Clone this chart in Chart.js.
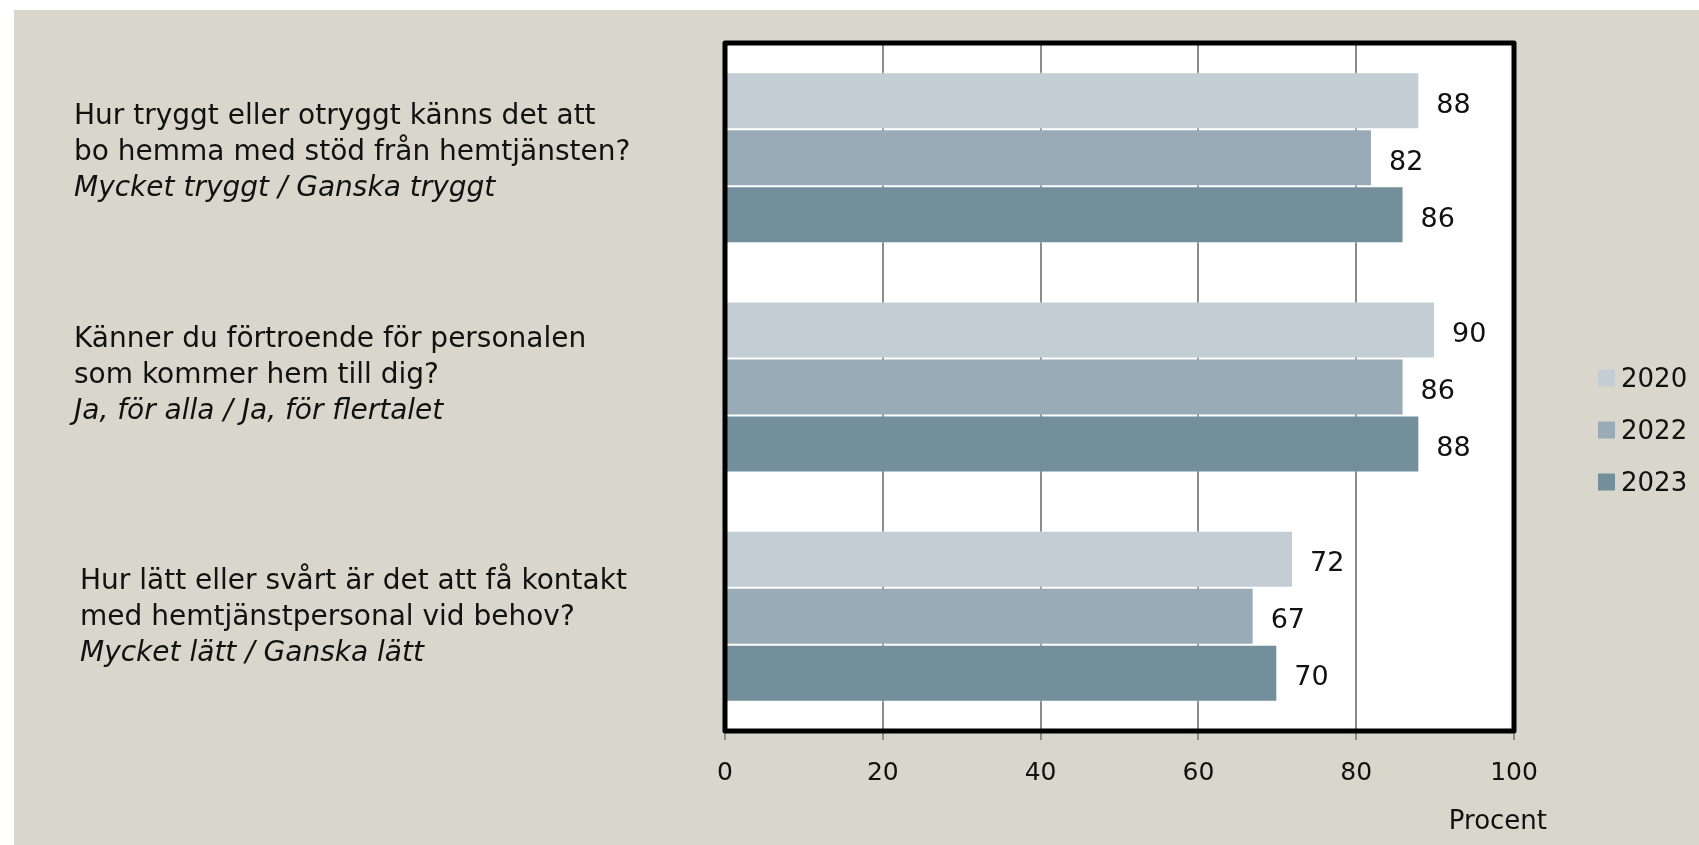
<!DOCTYPE html>
<html>
<head>
<meta charset="utf-8">
<script src="https://cdn.jsdelivr.net/npm/chart.js@4.4.1/dist/chart.umd.min.js"></script>
<style>
html,body{margin:0;padding:0;background:#ffffff;}
#wrap{width:1699px;height:845px;position:relative;}
</style>
</head>
<body>
<div id="wrap"><canvas id="c" width="1699" height="845"></canvas></div>
<script>
const categories = ["Q1", "Q2", "Q3"];
const questionLines = [
  ["Hur tryggt eller otryggt känns det att", "bo hemma med stöd från hemtjänsten?"],
  ["Känner du förtroende för personalen", "som kommer hem till dig?"],
  ["Hur lätt eller svårt är det att få kontakt", "med hemtjänstpersonal vid behov?"]
];
const answerLines = [
  "Mycket tryggt / Ganska tryggt",
  "Ja, för alla / Ja, för flertalet",
  "Mycket lätt / Ganska lätt"
];
const seriesNames = ["2020", "2022", "2023"];
const values2020 = [88, 90, 72];
const values2022 = [82, 86, 67];
const values2023 = [86, 88, 70];
const xTicks = [0, 20, 40, 60, 80, 100];
const axisTitle = "Procent";

const FONT = "'DejaVu Sans', sans-serif";
const colors = ["#c3cdd4", "#98abb6", "#738f9c"];
const seriesValues = [values2020, values2022, values2023];

const decor = {
  id: 'decor',
  beforeDraw(chart) {
    const ctx = chart.ctx, a = chart.chartArea;
    ctx.save();
    ctx.fillStyle = '#d9d7cb';
    ctx.fillRect(14, 10, chart.width - 14, chart.height - 10);
    ctx.fillStyle = '#ffffff';
    ctx.fillRect(a.left, a.top, a.right - a.left, a.bottom - a.top);
    ctx.restore();
  },
  afterDatasetsDraw(chart) {
    const ctx = chart.ctx, a = chart.chartArea;
    ctx.save();
    // value labels
    ctx.fillStyle = '#111';
    ctx.font = "27px " + FONT;
    ctx.textAlign = 'left';
    ctx.textBaseline = 'middle';
    chart.data.datasets.forEach((ds, i) => {
      chart.getDatasetMeta(i).data.forEach((bar, j) => {
        ctx.fillText(String(ds.data[j]), bar.x + 17, bar.y + 5);
      });
    });
    // frame
    ctx.strokeStyle = '#000';
    ctx.lineWidth = 5;
    ctx.lineJoin = 'round';
    ctx.strokeRect(a.left, a.top, a.right - a.left, a.bottom - a.top);
    // category labels
    const yScale = chart.scales.y;
    const shift = [-5, -11.5, 1.5];
    const indent = [74, 74, 80];
    ctx.fillStyle = '#111';
    ctx.textBaseline = 'middle';
    categories.forEach((c, i) => {
      const cy = yScale.getPixelForValue(i) + shift[i];
      const lines = questionLines[i];
      const lh = 36;
      const x = indent[i];
      ctx.font = "28px " + FONT;
      ctx.fillText(lines[0], x, cy - lh);
      ctx.fillText(lines[1], x, cy);
      ctx.font = "oblique 28px " + FONT;
      ctx.fillText(answerLines[i], x, cy + lh);
    });
    // axis title
    ctx.font = "26px " + FONT;
    ctx.textAlign = 'right';
    ctx.fillStyle = '#111';
    ctx.fillText(axisTitle, 1547, 822);
    // legend
    ctx.textAlign = 'left';
    seriesNames.forEach((n, i) => {
      const cy = 378 + i * 52;
      ctx.fillStyle = colors[i];
      ctx.fillRect(1598, cy - 8.5, 17, 17);
      ctx.fillStyle = '#111';
      ctx.font = "26px " + FONT;
      ctx.fillText(n, 1621, cy + 2);
    });
    ctx.restore();
  }
};

new Chart(document.getElementById('c'), {
  type: 'bar',
  data: {
    labels: categories,
    datasets: seriesNames.map((n, i) => ({
      label: n,
      data: seriesValues[i],
      backgroundColor: colors[i],
      borderColor: 'rgba(255,255,255,0.35)',
      borderWidth: 1,
      barPercentage: 1.0,
      categoryPercentage: 0.746
    }))
  },
  options: {
    indexAxis: 'y',
    responsive: false,
    animation: false,
    devicePixelRatio: 1,
    layout: { padding: { left: 725, top: 43, right: 185, bottom: 0 } },
    plugins: { legend: { display: false }, tooltip: { enabled: false } },
    scales: {
      x: {
        min: 0, max: 100,
        afterBuildTicks(scale) { scale.ticks = xTicks.map(v => ({ value: v })); },
        afterFit(scale) { scale.height = 114; },
        ticks: { color: '#111', font: { family: FONT, size: 25 }, padding: 18 },
        grid: { color: '#8c8c8c', lineWidth: 2, tickLength: 9, drawOnChartArea: true },
        border: { display: false }
      },
      y: {
        afterFit(scale) { scale.width = 0; },
        ticks: { display: false },
        grid: { display: false },
        border: { display: false }
      }
    }
  },
  plugins: [decor]
});
</script>
</body>
</html>
